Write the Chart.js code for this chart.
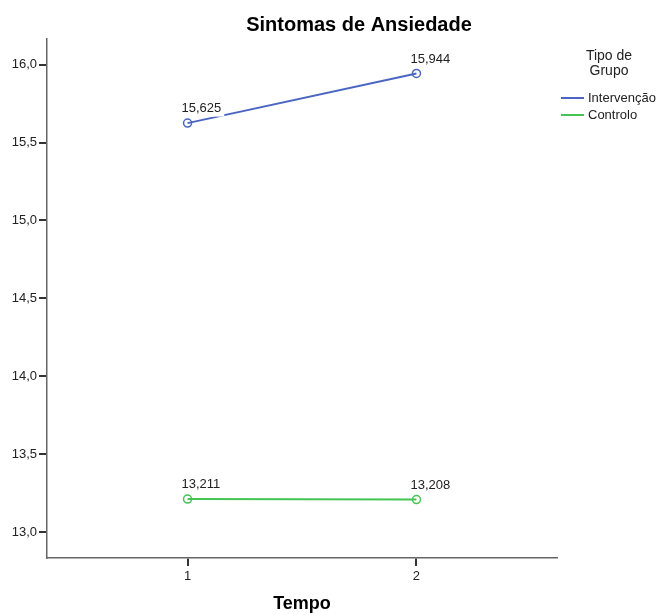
<!DOCTYPE html>
<html>
<head>
<meta charset="utf-8">
<script src="https://cdn.jsdelivr.net/npm/chart.js@4"></script>
<style>
  body { margin: 0; background: #fff; }
  #box { width: 660px; height: 615px; }
</style>
</head>
<body>
<div id="box"><canvas id="grafico" width="660" height="615"></canvas></div>
<script>
// dados
const tempos = [1, 2];
const intervencao = [15.625, 15.944];
const controlo = [13.211, 13.208];
const yTicks = [13.0, 13.5, 14.0, 14.5, 15.0, 15.5, 16.0];
const xTicks = [1, 2];
const nomesGrupos = ['Intervenção', 'Controlo'];
const coresGrupos = ['#4a66c2', '#44c453'];

const fonte = '"Liberation Sans", Arial, sans-serif';

function virgula(v, casas) {
  return v.toFixed(casas).replace('.', ',');
}

function pontos(valores) {
  return tempos.map(function (t, i) { return { x: t, y: valores[i] }; });
}

// textos extra: titulo, legenda, titulo do eixo e rotulos dos pontos
const extras = {
  id: 'extras',
  afterDatasetsDraw(chart) {
    const ctx = chart.ctx;
    ctx.save();
    ctx.font = '13px ' + fonte;
    ctx.textAlign = 'left';
    ctx.textBaseline = 'middle';
    chart.data.datasets.forEach(function (ds, d) {
      const meta = chart.getDatasetMeta(d);
      meta.data.forEach(function (p, i) {
        const txt = virgula(ds.data[i].y, 3);
        const w = ctx.measureText(txt).width;
        const x = p.x - 6;
        const y = p.y - 14.5;
        ctx.fillStyle = '#fff';
        ctx.fillRect(x - 2, y - 8, w + 5, 16);
        ctx.fillStyle = '#222';
        ctx.fillText(txt, x, y);
      });
    });
    ctx.restore();
  },
  afterDraw(chart) {
    const ctx = chart.ctx;
    ctx.save();
    ctx.fillStyle = '#000';
    ctx.textAlign = 'center';
    ctx.textBaseline = 'middle';
    ctx.font = 'bold 20px ' + fonte;
    ctx.fillText('Sintomas de Ansiedade', 359, 25);
    ctx.font = 'bold 18px ' + fonte;
    ctx.fillText('Tempo', (chart.chartArea.left + chart.chartArea.right) / 2, 604);

    // legenda
    ctx.fillStyle = '#222';
    ctx.font = '14px ' + fonte;
    ctx.fillText('Tipo de', 609, 56);
    ctx.fillText('Grupo', 609, 71);
    ctx.font = '13px ' + fonte;
    ctx.textAlign = 'left';
    nomesGrupos.forEach(function (nome, i) {
      const y = 98 + i * 17;
      ctx.strokeStyle = coresGrupos[i];
      ctx.lineWidth = 2;
      ctx.beginPath();
      ctx.moveTo(561, y);
      ctx.lineTo(584, y);
      ctx.stroke();
      ctx.fillText(nome, 588, y);
    });
    ctx.restore();
  }
};

const dados = {
  datasets: [
    {
      label: nomesGrupos[0],
      data: pontos(intervencao),
      borderColor: coresGrupos[0],
      backgroundColor: 'rgba(0,0,0,0)',
      borderWidth: 2,
      pointRadius: 4,
      pointBorderWidth: 1.5,
      pointBackgroundColor: 'rgba(0,0,0,0)',
      pointBorderColor: coresGrupos[0],
      tension: 0
    },
    {
      label: nomesGrupos[1],
      data: pontos(controlo),
      borderColor: coresGrupos[1],
      backgroundColor: 'rgba(0,0,0,0)',
      borderWidth: 2,
      pointRadius: 4,
      pointBorderWidth: 1.5,
      pointBackgroundColor: 'rgba(0,0,0,0)',
      pointBorderColor: coresGrupos[1],
      tension: 0
    }
  ]
};

const config = {
  type: 'line',
  data: dados,
  options: {
    responsive: false,
    animation: false,
    layout: { padding: { top: 39, right: 103, left: 0, bottom: 0 } },
    plugins: {
      legend: { display: false },
      title: { display: false },
      tooltip: { enabled: false }
    },
    scales: {
      x: {
        type: 'linear',
        min: 0.386,
        max: 2.614,
        afterBuildTicks: function (scale) {
          scale.ticks = xTicks.map(function (v) { return { value: v }; });
        },
        afterFit: function (scale) { scale.height = 57; },
        grid: { drawOnChartArea: false, drawTicks: true, tickLength: 8, color: '#333', lineWidth: 2 },
        border: { display: true, color: '#666', width: 1.5 },
        ticks: {
          padding: 3,
          color: '#222',
          font: { family: fonte, size: 13 },
          callback: function (v) { return String(v); }
        }
      },
      y: {
        type: 'linear',
        min: 12.833,
        max: 16.165,
        afterBuildTicks: function (scale) {
          scale.ticks = yTicks.map(function (v) { return { value: v }; });
        },
        afterFit: function (scale) { scale.width = 47; },
        grid: { drawOnChartArea: false, drawTicks: true, tickLength: 8, color: '#333', lineWidth: 2 },
        border: { display: true, color: '#666', width: 1.5 },
        ticks: {
          padding: 2,
          color: '#222',
          font: { family: fonte, size: 13 },
          callback: function (v) { return virgula(v, 1); }
        }
      }
    }
  },
  plugins: [extras]
};

let meuGrafico = new Chart(document.getElementById('grafico'), config);
</script>
</body>
</html>
